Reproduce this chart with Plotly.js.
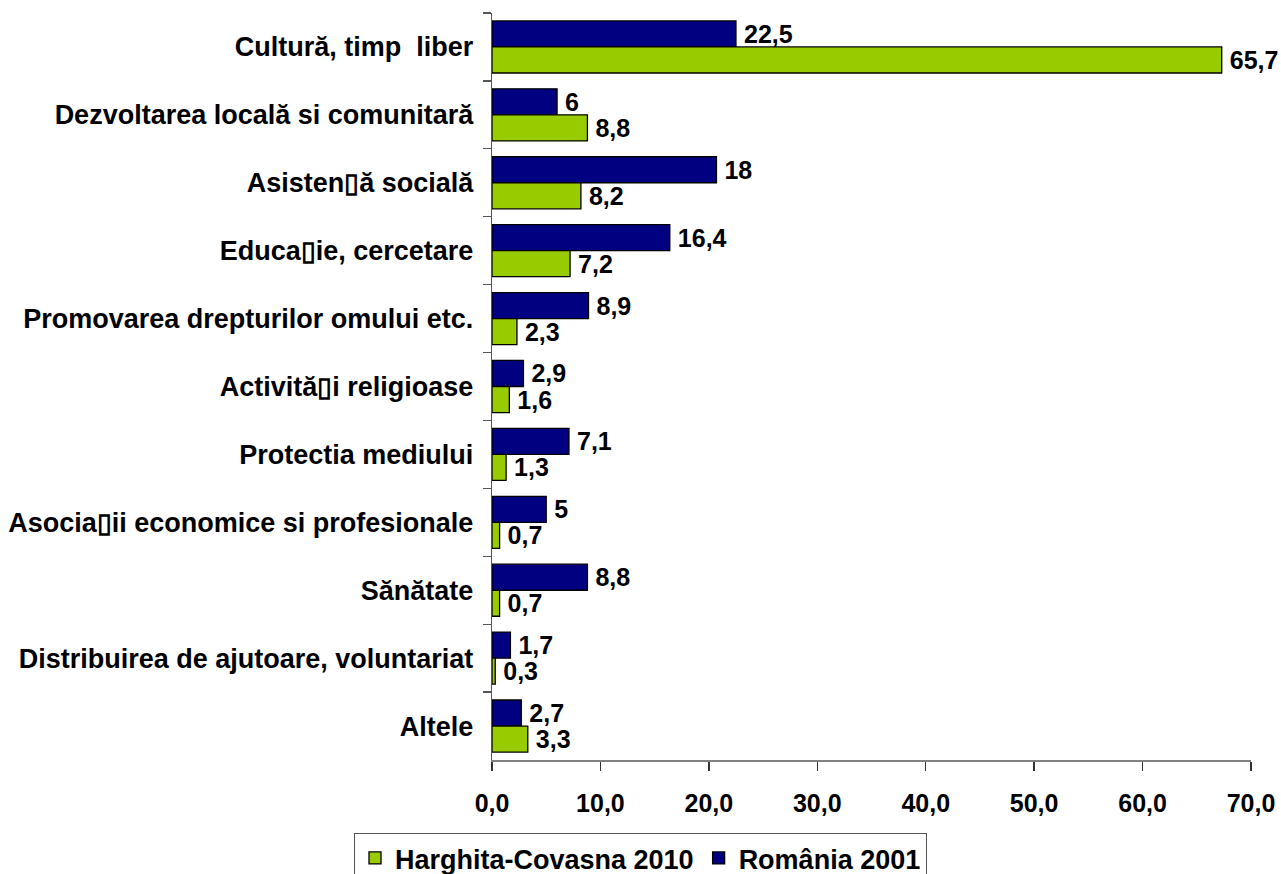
<!DOCTYPE html>
<html>
<head>
<meta charset="utf-8">
<script src="https://cdn.plot.ly/plotly-3.0.1.min.js"></script>
<style>html,body{margin:0;padding:0;background:#fff;}#chart{width:1281px;height:874px;}</style>
</head>
<body>
<div id="chart"></div>
<script>
const categories = [
  "Cultură, timp  liber",
  "Dezvoltarea locală si comunitară",
  "Asisten\u25AFă socială",
  "Educa\u25AFie, cercetare",
  "Promovarea drepturilor omului etc.",
  "Activită\u25AFi religioase",
  "Protectia mediului",
  "Asocia\u25AFii economice si profesionale",
  "Sănătate",
  "Distribuirea de ajutoare, voluntariat",
  "Altele"
];
// bar lengths as drawn in the picture
const romania2001 = [22.5, 6, 20.7, 16.4, 8.9, 2.9, 7.1, 5, 8.8, 1.7, 2.7];
const harghitaCovasna2010 = [67.3, 8.8, 8.2, 7.2, 2.3, 1.6, 1.3, 0.7, 0.7, 0.3, 3.3];
// data labels as printed in the picture
const romania2001Labels = ["22,5", "6", "18", "16,4", "8,9", "2,9", "7,1", "5", "8,8", "1,7", "2,7"];
const harghitaCovasna2010Labels = ["65,7", "8,8", "8,2", "7,2", "2,3", "1,6", "1,3", "0,7", "0,7", "0,3", "3,3"];
const xTickValues = [0, 10, 20, 30, 40, 50, 60, 70];

const pad = s => '\u2009' + s;
const FONT = 'Arial, "Liberation Sans", sans-serif';

const traces = [
  {
    type: 'bar', orientation: 'h', name: 'România 2001',
    y: categories, x: romania2001,
    text: romania2001Labels.map(pad), textposition: 'outside', cliponaxis: false,
    constraintext: 'none',
    textfont: {family: FONT, size: 25, color: '#000', weight: 'bold'},
    marker: {color: '#000080', line: {color: '#000', width: 1.3}},
    hoverinfo: 'x'
  },
  {
    type: 'bar', orientation: 'h', name: 'Harghita-Covasna 2010',
    y: categories, x: harghitaCovasna2010,
    text: harghitaCovasna2010Labels.map(pad), textposition: 'outside', cliponaxis: false,
    constraintext: 'none',
    textfont: {family: FONT, size: 25, color: '#000', weight: 'bold'},
    marker: {color: '#99CC00', line: {color: '#000', width: 1.3}},
    hoverinfo: 'x'
  }
];

const layout = {
  width: 1281, height: 874,
  margin: {l: 492, r: 30, t: 13, b: 114, autoexpand: false},
  paper_bgcolor: '#fff', plot_bgcolor: '#fff',
  separators: ',.',
  barmode: 'group', bargap: 0.233, bargroupgap: 0,
  font: {family: FONT, size: 27, color: '#000', weight: 'bold'},
  showlegend: true,
  legend: {
    orientation: 'h', traceorder: 'reversed',
    xref: 'container', yref: 'container',
    x: 0.5, xanchor: 'center',
    y: 0.047, yanchor: 'top',
    bordercolor: '#555', borderwidth: 1, bgcolor: '#fff',
    font: {family: FONT, size: 27, color: '#000', weight: 'bold'},
    itemwidth: 30
  },
  xaxis: {
    range: [0, 70], tickvals: xTickValues, tickformat: '.1f',
    showgrid: false, zeroline: false,
    showline: true, linecolor: '#808080', linewidth: 1.5,
    ticks: 'outside', ticklen: 9, tickcolor: '#333', tickwidth: 1.3,
    ticklabelstandoff: 11,
    tickfont: {family: FONT, size: 25, color: '#000', weight: 'bold'},
    automargin: false, fixedrange: true
  },
  yaxis: {
    autorange: 'reversed', type: 'category',
    showgrid: false, zeroline: false,
    showline: true, linecolor: '#555', linewidth: 1.3,
    ticks: 'outside', tickson: 'boundaries', ticklen: 8, tickcolor: '#555', tickwidth: 1.3,
    ticklabelstandoff: 12,
    tickfont: {family: FONT, size: 27, color: '#000', weight: 'bold'},
    automargin: false, fixedrange: true
  }
};

Plotly.newPlot('chart', traces, layout, {displayModeBar: false, staticPlot: true});
</script>
</body>
</html>
